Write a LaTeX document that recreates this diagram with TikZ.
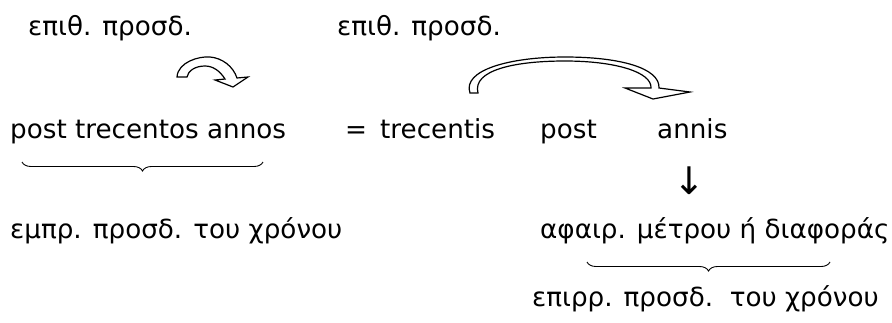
\documentclass[tikz,border=0pt]{standalone}
\usepackage{fontspec}
\setmainfont{DejaVu Sans}
\usetikzlibrary{decorations.pathreplacing}
\begin{document}
\begin{tikzpicture}[x=1pt,y=-1pt,
  lbl/.style={anchor=base west,inner sep=0pt,font=\fontsize{26.2}{30}\selectfont},
  blockarrow/.style={draw=black,fill=white,line width=1.2pt,line join=miter},
  bracedown/.style={decorate,decoration={brace,mirror,amplitude=9pt},line width=0.9pt}]
\useasboundingbox (0,0) rectangle (892,322);
% row 1
\node[lbl] (e1) at (28,35) {επιθ. προσδ.};
\node[lbl] (e2) at (337,35) {επιθ. προσδ.};
% row 2
\node[lbl] (pta) at (10,138) {post trecentos annos};
\node[lbl] (eq) at (345,138) {=};
\node[lbl] (tr) at (380,138) {trecentis};
\node[lbl] (po) at (540,138) {post};
\node[lbl] (an) at (657,138) {annis};
% down arrow
\node[lbl,anchor=base,font=\fontsize{38}{40}\selectfont] (da) at (689,194) {↓};
% row 3
\node[lbl] (emp) at (10,238) {εμπρ. προσδ. του χρόνου};
\node[lbl] (afa) at (540,238) {αφαιρ. μέτρου ή διαφοράς};
% row 4
\node[lbl] (epi) at (532,306) {επιρρ. προσδ.\ \ του χρόνου};
% braces
\coordinate (b1l) at (22,162);
\coordinate (b1r) at (263,162);
\draw[bracedown] (b1l) -- (b1r);
\coordinate (b2l) at (587,262);
\coordinate (b2r) at (830,262);
\draw[bracedown] (b2l) -- (b2r);
% small curved block arrow
\draw[blockarrow] (177,77) .. controls (178,62) and (199,56) .. (210,57)
  .. controls (222,58) and (233,66) .. (237,78)
  -- (248,77) -- (233,87) -- (215,80) -- (225,79)
  .. controls (220,71) and (213,66) .. (205,66)
  .. controls (195,66) and (188,71) .. (187,77) -- cycle;
% big curved block arrow
\draw[blockarrow] (470,93) .. controls (462,70) and (510,57) .. (565,57)
  .. controls (620,57) and (660,68) .. (659,88)
  -- (690,92) -- (653,99) -- (625,88) -- (651,88)
  .. controls (652,72) and (615,61) .. (565,61)
  .. controls (515,61) and (472,70) .. (478,93) -- cycle;
\end{tikzpicture}
\end{document}
